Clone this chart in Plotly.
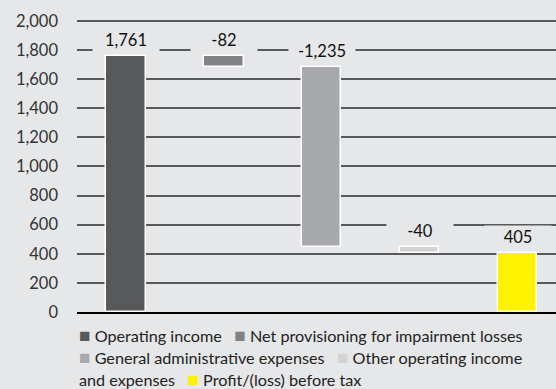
import plotly.graph_objects as go

# Bridge from operating income to profit before tax (EUR m)
categories = [
    "Operating income",
    "Net provisioning for impairment losses",
    "General administrative expenses",
    "Other operating income and expenses",
    "Profit/(loss) before tax",
]
values = [1761, -82, -1235, -40, 405]
is_total = [False, False, False, False, True]
colors = ["#58595b", "#808285", "#a7a9ac", "#d1d3d4", "#fff200"]
y_ticks = list(range(0, 2001, 200))

BG = "#e6e7e8"
FONT = "Lato, 'Noto Sans', sans-serif"
TXT = 16.2

# running totals give each step its floating base
bases = []
running = 0
for v, tot in zip(values, is_total):
    if tot:
        bases.append(0)
        running = v
    else:
        bases.append(running)
        running += v

fig = go.Figure(
    go.Bar(
        x=categories,
        y=values,
        base=bases,
        width=0.4,
        marker=dict(color=colors, line=dict(color="white", width=1.5)),
        showlegend=False,
        hoverinfo="skip",
    )
)

# value labels sitting above each bar on a background-coloured box
for cat, v, b in zip(categories, values, bases):
    top = max(b, b + v)
    fig.add_annotation(
        x=cat, y=top, text=f"{v:,}", showarrow=False,
        yanchor="middle", yshift=16, width=64, height=20,
        bgcolor=BG, font=dict(family=FONT, size=16.5, color="#111111"),
    )

# flowing legend text with coloured square markers, one line per annotation
def sw(c):
    return f"<span style='color:{c};font-size:19px'>■</span>"

legend_lines = [
    f"{sw(colors[0])} {categories[0]}   {sw(colors[1])} {categories[1]}",
    f"{sw(colors[2])} {categories[2]}   {sw(colors[3])} Other operating income",
    f"and expenses   {sw(colors[4])} {categories[4]}",
]
for i, line in enumerate(legend_lines):
    fig.add_annotation(
        xref="paper", yref="paper", x=0, y=0, xanchor="left", yanchor="middle",
        yshift=-22 - 22 * i, align="left", showarrow=False,
        text=line,
        font=dict(family=FONT, size=TXT, color="#222222"),
    )

fig.update_layout(
    width=556, height=389,
    margin=dict(l=77, r=0, t=19, b=77),
    paper_bgcolor=BG, plot_bgcolor=BG,
    font=dict(family=FONT, size=TXT, color="#222222"),
    bargap=0,
)
fig.update_xaxes(
    range=[-0.5, 4.39], showticklabels=False, showgrid=False,
    showline=True, linecolor="#000000", linewidth=2, ticks="",
)
fig.update_yaxes(
    range=[0, 2012], tickvals=y_ticks, tickformat=",",
    showgrid=True, gridcolor="rgb(88,89,91)", gridwidth=2,
    zeroline=False, ticks="", ticklabelstandoff=18,
    tickfont=dict(family=FONT, size=16.5, color="#333333"),
)

fig.write_html("out.html")
